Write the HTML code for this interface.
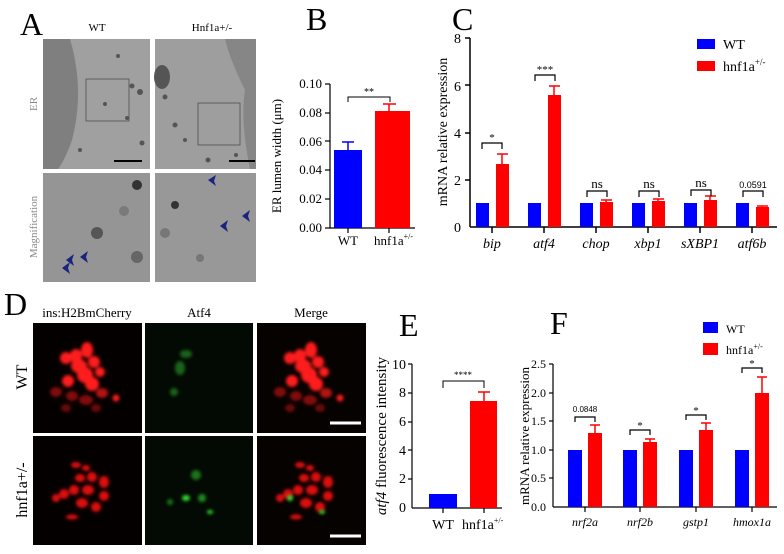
<!DOCTYPE html>
<html><head><meta charset="utf-8"><style>
html,body{margin:0;padding:0;background:#fff;}
svg{display:block;}
svg text{font-family:"Liberation Serif","Times New Roman","DejaVu Serif",serif;}
svg text.s{font-family:"Liberation Sans","DejaVu Sans",sans-serif;}
</style></head><body>
<svg width="784" height="554" viewBox="0 0 784 554" xmlns="http://www.w3.org/2000/svg" font-family="Liberation Serif, DejaVu Serif, serif">
<defs>
<filter id="bl" x="-20%" y="-20%" width="140%" height="140%"><feGaussianBlur stdDeviation="1.5"/></filter>
</defs>
<rect width="784" height="554" fill="#fff"/>

<!-- Panel A -->
<text x="20" y="35" font-size="32">A</text>
<text x="97" y="31" font-size="11" text-anchor="middle">WT</text>
<text x="212" y="31" font-size="11" text-anchor="middle">Hnf1a+/-</text>
<text transform="translate(37,104) rotate(-90)" font-size="11" fill="#888" text-anchor="middle">ER</text>
<text transform="translate(37,227) rotate(-90)" font-size="11" fill="#888" text-anchor="middle">Magnification</text>
<g>
<rect x="43" y="39" width="107" height="130" fill="#a0a0a0"/>
<path d="M43,39 L70,39 Q85,90 72,140 Q65,160 58,169 L43,169Z" fill="#777" opacity="0.8"/>
<g fill="#555"><circle cx="118" cy="56" r="2"/><circle cx="132" cy="86" r="2.5"/><circle cx="140" cy="92" r="3"/><circle cx="105" cy="104" r="2"/><circle cx="127" cy="118" r="2"/><circle cx="142" cy="143" r="2.5"/><circle cx="80" cy="150" r="2"/></g>
<rect x="86" y="79" width="43" height="42" fill="none" stroke="#444" stroke-width="0.7"/>
<line x1="114" y1="161" x2="142" y2="161" stroke="#000" stroke-width="2"/>
<rect x="155" y="39" width="101" height="130" fill="#9e9e9e"/>
<path d="M225,39 L256,39 L256,169 L250,169 Q240,120 245,90 Q230,60 225,39Z" fill="#7c7c7c" opacity="0.7"/>
<ellipse cx="162" cy="77" rx="8" ry="12" fill="#555"/>
<g fill="#555"><circle cx="165" cy="97" r="2.5"/><circle cx="175" cy="125" r="2.5"/><circle cx="185" cy="140" r="2"/><circle cx="208" cy="160" r="2.5"/><circle cx="236" cy="155" r="2"/></g>
<rect x="198" y="103" width="42" height="42" fill="none" stroke="#444" stroke-width="0.7"/>
<line x1="229" y1="161" x2="255" y2="161" stroke="#000" stroke-width="2"/>
<rect x="43" y="173" width="107" height="109" fill="#959595"/>
<circle cx="137" cy="185" r="5" fill="#333"/><circle cx="97" cy="233" r="6" fill="#555"/><circle cx="137" cy="257" r="6" fill="#666"/><circle cx="124" cy="211" r="5" fill="#7a7a7a"/>
<rect x="155" y="173" width="101" height="109" fill="#989898"/>
<circle cx="175" cy="205" r="4" fill="#333"/><circle cx="165" cy="233" r="5" fill="#777"/><circle cx="200" cy="258" r="4" fill="#777"/>
<g fill="#1a237e"><polygon points="62,268 70,262 68,268 70,274"/><polygon points="66,260 74,254 72,260 74,266"/><polygon points="80,257 88,251 86,257 88,263"/><polygon points="208,180 216,175 214,181 216,186"/><polygon points="220,226 228,220 226,226 228,232"/><polygon points="242,216 250,210 248,216 250,222"/></g>
</g>

<!-- Panel B -->
<text x="306" y="30" font-size="32">B</text>
<g font-size="13" text-anchor="end">
<text x="322" y="232">0.00</text><text x="322" y="203">0.02</text><text x="322" y="174">0.04</text><text x="322" y="146">0.06</text><text x="322" y="117">0.08</text><text x="322" y="88">0.10</text>
</g>
<g stroke="#000" stroke-width="1.2">
<line x1="330" y1="84" x2="330" y2="228"/><line x1="330" y1="228" x2="415" y2="228"/>
<line x1="325" y1="84" x2="330" y2="84"/><line x1="325" y1="113" x2="330" y2="113"/><line x1="325" y1="141" x2="330" y2="141"/><line x1="325" y1="170" x2="330" y2="170"/><line x1="325" y1="199" x2="330" y2="199"/><line x1="325" y1="228" x2="330" y2="228"/>
<line x1="348" y1="228" x2="348" y2="233"/><line x1="389" y1="228" x2="389" y2="233"/>
</g>
<text transform="translate(281,156) rotate(-90)" font-size="13" text-anchor="middle">ER lumen width (μm)</text>
<rect x="334" y="150" width="28" height="78" fill="#0000ff"/>
<path d="M348,150 V142 M342,142 H354" stroke="#0000ff" stroke-width="1.5"/>
<rect x="375" y="111" width="35" height="117" fill="#ff0000"/>
<path d="M389,111 V104 M383,104 H396" stroke="#ff0000" stroke-width="1.5"/>
<path d="M348,102 V97 H390 V102" fill="none" stroke="#000" stroke-width="1"/>
<text x="369" y="95" font-size="10" text-anchor="middle">**</text>
<text x="348" y="245" font-size="13" text-anchor="middle">WT</text>
<text x="374" y="245" font-size="13">hnf1a<tspan font-size="8" dy="-6">+/-</tspan></text>

<!-- Panel C -->
<text x="452" y="30" font-size="32">C</text>
<g font-size="14" text-anchor="end">
<text x="461" y="232">0</text><text x="461" y="185">2</text><text x="461" y="138">4</text><text x="461" y="91">6</text><text x="461" y="43">8</text>
</g>
<g stroke="#000" stroke-width="1.5">
<line x1="470" y1="38" x2="470" y2="227"/><line x1="470" y1="227" x2="777" y2="227"/>
<line x1="465" y1="38" x2="470" y2="38"/><line x1="465" y1="85" x2="470" y2="85"/><line x1="465" y1="133" x2="470" y2="133"/><line x1="465" y1="180" x2="470" y2="180"/>
<line x1="492" y1="227" x2="492" y2="233"/><line x1="544" y1="227" x2="544" y2="233"/><line x1="596" y1="227" x2="596" y2="233"/><line x1="648" y1="227" x2="648" y2="233"/><line x1="700" y1="227" x2="700" y2="233"/><line x1="752" y1="227" x2="752" y2="233"/>
</g>
<text transform="translate(447,132) rotate(-90)" font-size="14" text-anchor="middle">mRNA relative expression</text>
<g fill="#0000ff">
<rect x="476" y="203" width="13" height="24"/><rect x="528" y="203" width="13" height="24"/><rect x="580" y="203" width="13" height="24"/><rect x="632" y="203" width="13" height="24"/><rect x="684" y="203" width="13" height="24"/><rect x="736" y="203" width="13" height="24"/>
</g>
<g fill="#ff0000">
<rect x="496" y="164" width="13" height="63"/><rect x="548" y="95" width="13" height="132"/><rect x="600" y="202" width="13" height="25"/><rect x="652" y="201" width="13" height="26"/><rect x="704" y="200" width="13" height="27"/><rect x="756" y="207" width="13" height="20"/>
</g>
<g stroke="#ff0000" stroke-width="1.5">
<path d="M502,164 V154 M497,154 H508"/><path d="M554,95 V86 M549,86 H560"/><path d="M606,202 V200 M601,200 H612"/><path d="M658,201 V199 M653,199 H664"/><path d="M710,200 V196 M705,196 H716"/><path d="M762,207 V206 M757,206 H768"/>
</g>
<g fill="none" stroke="#000" stroke-width="1.2">
<path d="M482,149 V143 H502 V149"/><path d="M535,81 V75 H555 V81"/><path d="M587,197 V191 H607 V197"/><path d="M639,197 V191 H659 V197"/><path d="M691,196 V190 H711 V196"/><path d="M743,197 V191 H763 V197"/>
</g>
<g text-anchor="middle" font-size="13">
<text x="492" y="141" font-size="11">*</text><text x="545" y="73" font-size="11">***</text>
<text x="597" y="188">ns</text><text x="649" y="188">ns</text><text x="701" y="187">ns</text>
<text x="753" y="188" font-size="9" class="s">0.0591</text>
</g>
<g font-size="14" font-style="italic" text-anchor="middle">
<text x="492" y="248">bip</text><text x="544" y="248">atf4</text><text x="596" y="248">chop</text><text x="648" y="248">xbp1</text><text x="700" y="248">sXBP1</text><text x="752" y="248">atf6b</text>
</g>
<rect x="697" y="39" width="18" height="10" fill="#0000ff"/>
<text x="723" y="49" font-size="14">WT</text>
<rect x="697" y="61" width="18" height="10" fill="#ff0000"/>
<text x="723" y="71" font-size="14">hnf1a<tspan font-size="9" dy="-6">+/-</tspan></text>

<!-- Panel D -->
<text x="4" y="315" font-size="32">D</text>
<text x="87" y="317" font-size="13" text-anchor="middle">ins:H2BmCherry</text>
<text x="199" y="317" font-size="13" text-anchor="middle">Atf4</text>
<text x="311" y="317" font-size="13" text-anchor="middle">Merge</text>
<text transform="translate(27,377) rotate(-90)" font-size="16" text-anchor="middle">WT</text>
<text transform="translate(27,490) rotate(-90)" font-size="16" text-anchor="middle">hnf1a+/-</text>
<rect x="33" y="323" width="109" height="110" fill="#050000"/>
<rect x="145" y="323" width="108" height="110" fill="#030a03"/>
<rect x="257" y="323" width="109" height="110" fill="#050200"/>
<rect x="33" y="436" width="109" height="109" fill="#050000"/>
<rect x="145" y="436" width="108" height="109" fill="#030a03"/>
<rect x="257" y="436" width="109" height="109" fill="#050200"/>
<g id="redWT" filter="url(#bl)" fill="#ff1a1a">
<ellipse cx="66" cy="358" rx="6" ry="6"/><ellipse cx="76" cy="356" rx="6" ry="7"/><ellipse cx="79" cy="366" rx="8" ry="7"/><ellipse cx="85" cy="375" rx="8" ry="8"/><ellipse cx="92" cy="384" rx="7" ry="7"/><ellipse cx="87" cy="350" rx="6" ry="8"/><ellipse cx="94" cy="362" rx="6" ry="6"/><ellipse cx="68" cy="381" rx="6" ry="6"/><ellipse cx="100" cy="372" rx="5" ry="5"/><ellipse cx="102" cy="393" rx="6" ry="5" opacity="0.7"/><ellipse cx="56" cy="392" rx="6" ry="5" opacity="0.5"/><ellipse cx="72" cy="396" rx="6" ry="5" opacity="0.5"/><ellipse cx="86" cy="400" rx="7" ry="5" opacity="0.5"/><ellipse cx="96" cy="408" rx="5" ry="4" opacity="0.4"/><ellipse cx="66" cy="408" rx="5" ry="4" opacity="0.4"/><ellipse cx="116" cy="398" rx="3.5" ry="3.5"/>
</g>
<use href="#redWT" x="224" y="0"/>
<g filter="url(#bl)" fill="#2ca02c" opacity="0.6">
<ellipse cx="186" cy="354" rx="6" ry="4"/><ellipse cx="180" cy="368" rx="5" ry="7"/><ellipse cx="174" cy="392" rx="4" ry="4"/>
</g>
<g id="redH" filter="url(#bl)" fill="#e01010">
<ellipse cx="76" cy="465" rx="5" ry="3"/><ellipse cx="86" cy="468" rx="4" ry="3"/><ellipse cx="80" cy="478" rx="5" ry="4"/><ellipse cx="92" cy="477" rx="5" ry="5"/><ellipse cx="104" cy="482" rx="5" ry="6"/><ellipse cx="74" cy="490" rx="5" ry="5"/><ellipse cx="88" cy="490" rx="6" ry="5"/><ellipse cx="64" cy="494" rx="5" ry="5"/><ellipse cx="104" cy="496" rx="5" ry="5"/><ellipse cx="82" cy="503" rx="6" ry="5"/><ellipse cx="96" cy="507" rx="5" ry="5"/><ellipse cx="72" cy="517" rx="6" ry="2.5"/><ellipse cx="56" cy="498" rx="4" ry="4"/>
</g>
<use href="#redH" x="224" y="0"/>
<g filter="url(#bl)" fill="#33dd33">
<ellipse cx="196" cy="475" rx="5" ry="5" opacity="0.5"/><ellipse cx="186" cy="498" rx="4" ry="3"/><ellipse cx="202" cy="498" rx="4" ry="4" opacity="0.6"/><ellipse cx="210" cy="512" rx="3" ry="2"/><ellipse cx="170" cy="502" rx="3" ry="3" opacity="0.5"/>
<ellipse cx="290" cy="498" rx="3" ry="3"/><ellipse cx="322" cy="512" rx="3" ry="2"/>
</g>
<line x1="330" y1="423" x2="361" y2="423" stroke="#fff" stroke-width="3"/>
<line x1="330" y1="536" x2="361" y2="536" stroke="#fff" stroke-width="3"/>

<!-- Panel E -->
<text x="399" y="336" font-size="32">E</text>
<g font-size="14" text-anchor="end">
<text x="406" y="512">0</text><text x="406" y="483">2</text><text x="406" y="455">4</text><text x="406" y="426">6</text><text x="406" y="397">8</text><text x="406" y="369">10</text>
</g>
<g stroke="#000" stroke-width="1.2">
<line x1="412" y1="364" x2="412" y2="508"/><line x1="412" y1="508" x2="502" y2="508"/>
<line x1="408" y1="364" x2="412" y2="364"/><line x1="408" y1="393" x2="412" y2="393"/><line x1="408" y1="422" x2="412" y2="422"/><line x1="408" y1="450" x2="412" y2="450"/><line x1="408" y1="479" x2="412" y2="479"/>
<line x1="443" y1="508" x2="443" y2="513"/><line x1="484" y1="508" x2="484" y2="513"/>
</g>
<text transform="translate(386,436) rotate(-90)" font-size="15" text-anchor="middle"><tspan font-style="italic">atf4</tspan> fluorescence intensity</text>
<rect x="429" y="494" width="28" height="14" fill="#0000ff"/>
<rect x="470" y="401" width="27" height="107" fill="#ff0000"/>
<path d="M484,401 V392 M478,392 H490" stroke="#ff0000" stroke-width="1.5"/>
<path d="M443,388 V381 H484 V388" fill="none" stroke="#000" stroke-width="1"/>
<text x="463" y="378" font-size="9" text-anchor="middle">****</text>
<text x="443" y="529" font-size="14" text-anchor="middle">WT</text>
<text x="462" y="529" font-size="14">hnf1a<tspan font-size="8" dy="-6">+/-</tspan></text>

<!-- Panel F -->
<text x="550" y="334" font-size="32">F</text>
<g font-size="12" text-anchor="end">
<text x="546" y="511">0.0</text><text x="546" y="482">0.5</text><text x="546" y="454">1.0</text><text x="546" y="425">1.5</text><text x="546" y="397">2.0</text><text x="546" y="368">2.5</text>
</g>
<g stroke="#000" stroke-width="1.2">
<line x1="553" y1="364" x2="553" y2="507"/><line x1="553" y1="507" x2="777" y2="507"/>
<line x1="549" y1="364" x2="553" y2="364"/><line x1="549" y1="393" x2="553" y2="393"/><line x1="549" y1="421" x2="553" y2="421"/><line x1="549" y1="450" x2="553" y2="450"/><line x1="549" y1="478" x2="553" y2="478"/>
<line x1="585" y1="507" x2="585" y2="512"/><line x1="640" y1="507" x2="640" y2="512"/><line x1="696" y1="507" x2="696" y2="512"/><line x1="752" y1="507" x2="752" y2="512"/>
</g>
<text transform="translate(529,436) rotate(-90)" font-size="13" text-anchor="middle">mRNA relative expression</text>
<g fill="#0000ff">
<rect x="568" y="450" width="14" height="57"/><rect x="623" y="450" width="14" height="57"/><rect x="679" y="450" width="14" height="57"/><rect x="735" y="450" width="14" height="57"/>
</g>
<g fill="#ff0000">
<rect x="588" y="433" width="14" height="74"/><rect x="643" y="442" width="14" height="65"/><rect x="699" y="430" width="14" height="77"/><rect x="755" y="393" width="14" height="114"/>
</g>
<g stroke="#ff0000" stroke-width="1.5">
<path d="M595,433 V425 M590,425 H600"/><path d="M650,442 V439 M645,439 H655"/><path d="M706,430 V423 M701,423 H711"/><path d="M762,393 V377 M757,377 H767"/>
</g>
<g fill="none" stroke="#000" stroke-width="1.2">
<path d="M575,422 V417 H595 V422"/><path d="M630,435 V430 H650 V435"/><path d="M686,420 V415 H706 V420"/><path d="M742,373 V368 H762 V373"/>
</g>
<text x="585" y="412" font-size="8" text-anchor="middle" class="s">0.0848</text>
<g font-size="11" text-anchor="middle"><text x="640" y="429">*</text><text x="696" y="414">*</text><text x="752" y="367">*</text></g>
<g font-size="12" font-style="italic" text-anchor="middle">
<text x="585" y="526">nrf2a</text><text x="640" y="526">nrf2b</text><text x="696" y="526">gstp1</text><text x="752" y="526">hmox1a</text>
</g>
<rect x="703" y="322" width="15" height="11" fill="#0000ff"/>
<text x="726" y="333" font-size="12">WT</text>
<rect x="703" y="343" width="15" height="12" fill="#ff0000"/>
<text x="726" y="354" font-size="12">hnf1a<tspan font-size="8" dy="-5">+/-</tspan></text>
</svg>
</body></html>
